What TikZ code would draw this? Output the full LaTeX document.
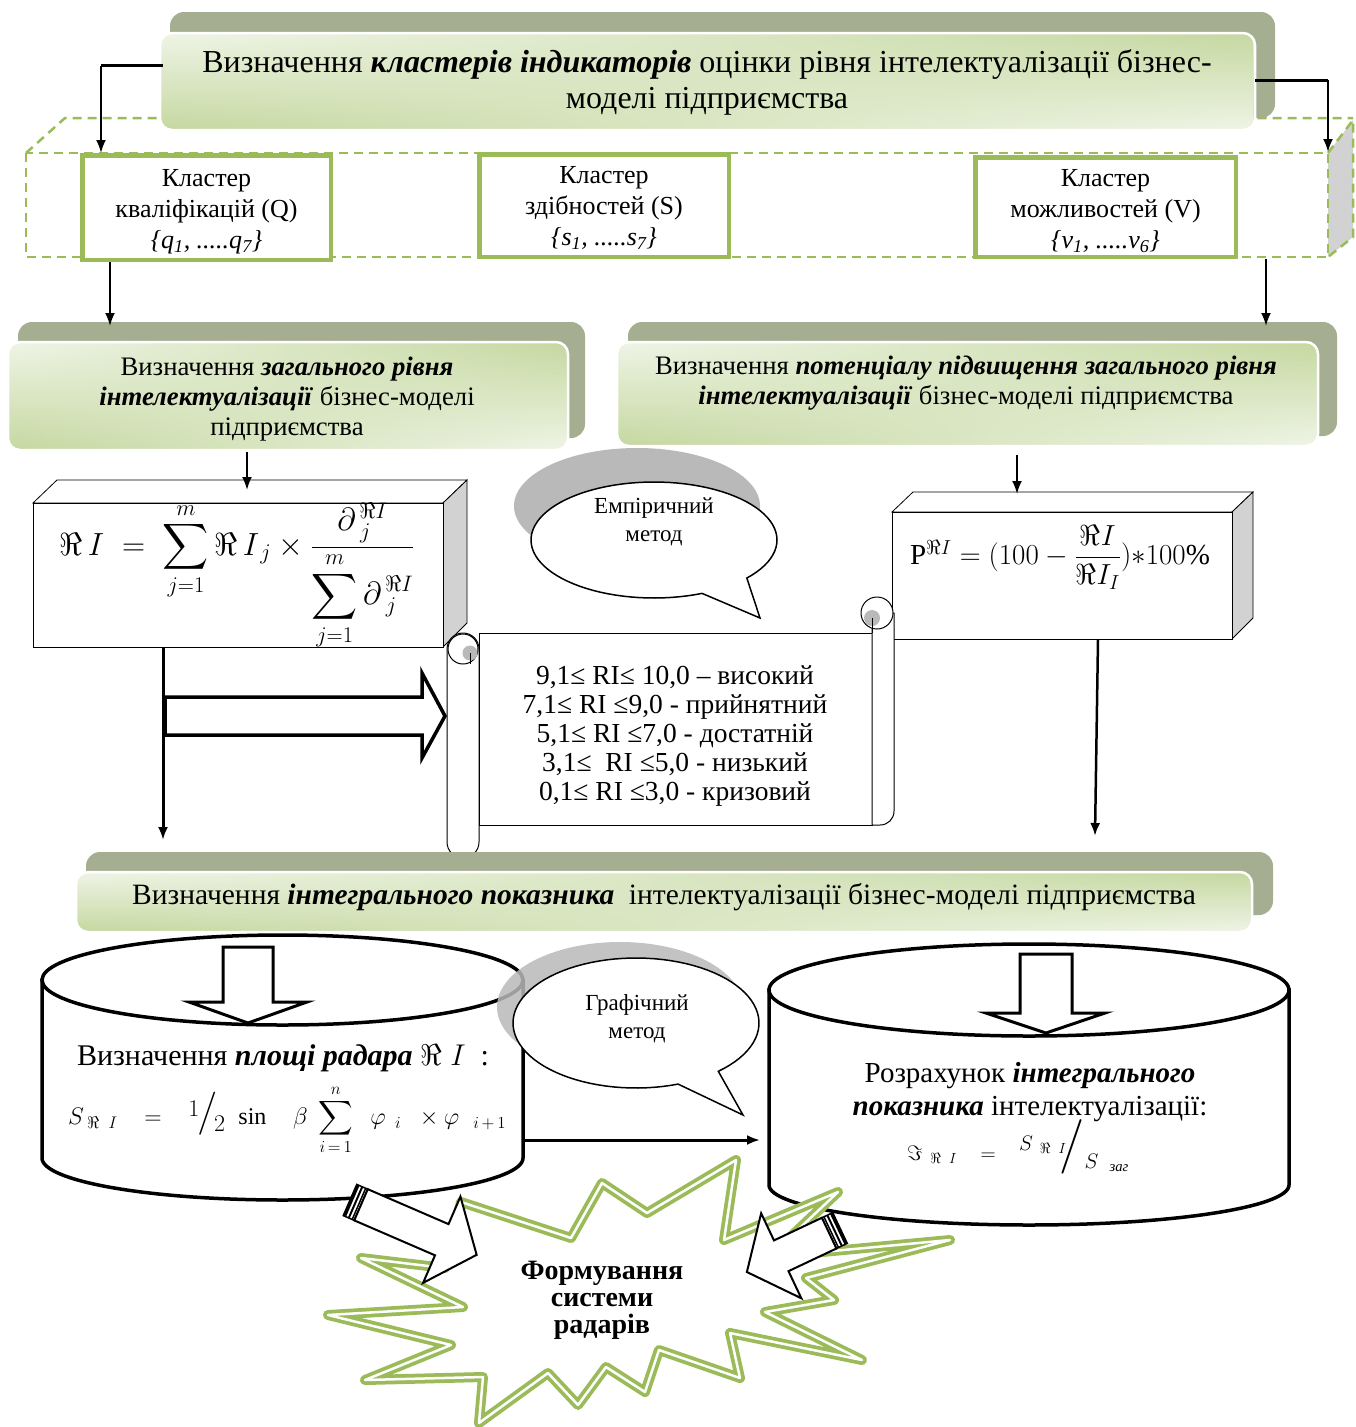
\RequirePackage{fix-cm}
\documentclass[tikz,border=0pt]{standalone}
\usepackage{amsmath,amssymb,graphicx}
\usepackage{fontspec}
\setmainfont{Liberation Serif}
\usetikzlibrary{arrows.meta,fadings}
\definecolor{gshadow}{RGB}{166,174,146}
\definecolor{glight}{RGB}{240,245,231}
\definecolor{gdark}{RGB}{197,216,160}
\definecolor{ggreen}{RGB}{155,187,89}
\definecolor{facegrey}{RGB}{210,210,210}
\definecolor{shadowgrey}{RGB}{185,185,185}
\newcommand\bi[1]{\textbf{\textit{#1}}}
\newcommand\mybanner[8]{%
  \fill[gshadow, rounded corners=14pt] (#1,#2) rectangle (#3,#4);
  \shade[top color=glight, bottom color=gdark, rounded corners=12pt] (#5,#6) rectangle (#7,#8);
  \shade[top color=gdark, bottom color=glight, rounded corners=12pt, path fading=west] (#5,#6) rectangle (#7,#8);
  \draw[white, line width=2.5pt, rounded corners=12pt] (#5,#6) rectangle (#7,#8);}
\newcommand\stripedarrow[4]{%
  \begin{scope}[shift={(#1,#2)}, rotate=#3]
    \draw[line width=1.5pt, fill=white] (0,-17) rectangle (12,17);
    \fill (0,-17) rectangle (3,17);
    \fill (5,-17) rectangle (7,17);
    \fill (9,-17) rectangle (10.5,17);
    \draw[line width=2pt, fill=white, line join=miter] (12,-17) -- ({#4-38},-17) -- ({#4-38},-47) -- (#4,0) -- ({#4-38},47) -- ({#4-38},17) -- (12,17) -- cycle;
  \end{scope}}
\tikzset{
  fs/.style 2 args={font=\fontsize{#1pt}{#2pt}\selectfont},
  txt/.style={align=center, inner sep=0pt},
  arr/.style={-{Latex[length=13pt,width=10pt]}, line width=2pt},
  clbox/.style={draw=ggreen, line width=4.5pt, fill=white, inner sep=0pt},
  facebox/.style={draw=black, line width=0.8pt},
  dashg/.style={draw=ggreen, line width=2.5pt, dash pattern=on 9pt off 6pt},
  cyl/.style={draw=black, line width=3.5pt},
  blockarr/.style={draw=black, line width=3pt, fill=white, line join=miter},
  bubble/.style={draw=black, line width=1.5pt, fill=white},
  scr/.style={draw=black, line width=1pt},
}
\begin{document}
\begin{tikzpicture}[x=1pt,y=-1pt]
\useasboundingbox (0,0) rectangle (1355,1427);

% ---- dashed parallelepiped
\fill[facegrey] (1328,153) -- (1353,120) -- (1353,237) -- (1328,257) -- cycle;
\draw[dashg] (26,153) -- (65,118) -- (1353,118);
\draw[dashg] (26,153) rectangle (1328,257);
\draw[dashg] (1328,153) -- (1353,120) -- (1353,237) -- (1328,257);
\coordinate (dtr) at (1328,152);

% ---- top banner
\mybanner{170}{12}{1275}{118}{160}{33}{1255}{130}
\node[txt, fs={32}{36}] (b1) at (707,82) {Визначення \bi{кластерів індикаторів} оцінки рівня інтелектуалізації бізнес-\\моделі підприємства};
\coordinate (b1L) at (163,65.5);
\coordinate (b1R) at (1255,80);

% ---- cluster boxes
\node[clbox, minimum width=248.5pt, minimum height=104.5pt] (qbox) at (206.5,207.5) {};
\node[clbox, minimum width=249.5pt, minimum height=102.5pt] (sbox) at (604,205.5) {};
\node[clbox, minimum width=260.5pt, minimum height=99.5pt] (vbox) at (1105.5,207) {};
\node[txt, fs={26}{31}] (qtxt) at (206.5,212) {Кластер\\кваліфікацій (Q)\\\textit{\{q\textsubscript{1}, .....q\textsubscript{7}\}}};
\node[txt, fs={26}{31}] (stxt) at (604,208) {Кластер\\здібностей (S)\\\textit{\{s\textsubscript{1}, .....s\textsubscript{7}\}}};
\node[txt, fs={26}{31}] (vtxt) at (1105.5,211) {Кластер\\можливостей (V)\\\textit{\{v\textsubscript{1}, .....v\textsubscript{6}\}}};

% ---- top connectors
\coordinate (c1) at (101,65.5);
\coordinate (c2) at (1328,80);
\draw[line width=3pt] (b1L) -- (c1);
\draw[arr] (c1) -- (c1 |- qbox.north);
\draw[line width=3pt] (b1R) -- (c2);
\draw[arr] (c2) -- (dtr);

% ---- second row banners
\mybanner{18}{322}{585}{438}{8}{342}{568}{450}
\mybanner{628}{322}{1337}{436}{617}{342}{1318}{446}
\node[txt, fs={26.7}{30}] (b2) at (287,399) {Визначення \bi{загального рівня}\\\bi{інтелектуалізації} бізнес-моделі\\підприємства};
\node[txt, fs={26.7}{30}] (b3) at (966,383) {Визначення \bi{потенціалу підвищення загального рівня}\\\bi{інтелектуалізації} бізнес-моделі підприємства};
\coordinate (b2T) at (110,326);
\coordinate (b3T) at (1266,326);
\draw[arr] ([xshift=-96.5pt]qbox.south) -- (b2T);
\draw[arr] ([xshift=160.5pt]vbox.south) -- (b3T);

% ---- 3D formula boxes
\draw[facebox, fill=white] (33,503) -- (57,480) -- (467,480) -- (443,503) -- cycle;
\draw[facebox, fill=facegrey] (443,503) -- (467,480) -- (467,623) -- (443,647) -- cycle;
\node[facebox, fill=white, minimum width=410pt, minimum height=144pt, inner sep=0pt] (f1) at (238,575) {};
\node[txt, fs={32}{36}] (f1t) at (237,576) {$\displaystyle \Re\, I \;=\; \sum_{j=1}^{m} \Re\, I_{\,j} \times \frac{\partial^{\,\Re I}_{\;j}}{\displaystyle\sum_{j=1}^{m} \partial^{\,\Re I}_{\;j}}$};

\draw[facebox, fill=white] (892,512) -- (913,492) -- (1253,492) -- (1232,512) -- cycle;
\draw[facebox, fill=facegrey] (1232,512) -- (1253,492) -- (1253,618) -- (1232,639) -- cycle;
\node[facebox, fill=white, minimum width=340pt, minimum height=127pt, inner sep=0pt] (f2) at (1062,575.5) {};
\node[txt, fs={29}{34}] (f2t) at (1060,557) {$\mathrm{P}^{\Re I} =(100-\dfrac{\Re I}{\Re I_{I}})\mathrm{*}100\%$};

\coordinate (b2B) at (247,452);
\coordinate (f1T) at (247,490);
\coordinate (b3B) at (1017,455);
\coordinate (f2T) at (1017,494);
\draw[arr] (b2B) -- (f1T);
\draw[arr] (b3B) -- (f2T);

% ---- speech bubble 1
\fill[shadowgrey] (637,506) ellipse [x radius=123, y radius=58];
\draw[bubble] plot[domain=67:401, samples=90] ({654+123*cos(\x)},{540+58*sin(\x)}) -- (760,618) -- cycle;
\node[txt, fs={23}{28}] (emp) at (654,522) {Емпіричний\\метод};

% ---- scroll
\draw[scr, fill=white, rounded corners=16pt] (447,633) rectangle (479,858);
\draw[scr, fill=white] (479,633) rectangle (872,825);
\draw[scr, fill=white] (872,613) -- (894,613) -- (894,811) .. controls (894,819) and (888,825) .. (880,825) -- (872,825) -- cycle;
\draw[scr, fill=white] (877,613) circle [radius=16];
\fill[shadowgrey] (872,618) circle [radius=8];
\draw[scr] (872,618) -- (872,633);
\draw[scr, fill=white] (463,649) circle [radius=15];
\fill[shadowgrey] (470,653) circle [radius=7.5];
\draw[scr] (470,653) -- (470,664);
\node[txt, fs={27.5}{29}] (scroll) at (675,736) {9,1≤ RI≤ 10,0 – високий\\7,1≤ RI ≤9,0 - прийнятний\\5,1≤ RI ≤7,0 - достатній\\3,1≤~ RI ≤5,0 - низький\\0,1≤ RI ≤3,0 - кризовий};

% ---- left flow arrows
\coordinate (b4a) at (163,840);
\draw[arr, line width=3pt] ([xshift=-75pt]f1.south) -- (b4a);
\draw[blockarr, line width=3.5pt] (165,697) -- (422,697) -- (422,673) -- (445,716) -- (422,758) -- (422,735) -- (165,735) -- cycle;
\coordinate (b4b) at (1095,836);
\draw[arr, line width=2.5pt] ([xshift=36pt]f2.south) -- (b4b);

% ---- bottom banner
\mybanner{86}{852}{1273}{915}{76}{872}{1252}{932}
\node[txt, fs={29.5}{32}] (b4) at (664,897) {Визначення \bi{інтегрального показника}~ інтелектуалізації бізнес-моделі підприємства};

% ---- left cylinder
\draw[cyl, fill=white] (523,980) -- (523,1158) -- plot[domain=0:180, samples=80] ({282.5+240.5*cos(\x)},{1158+42*sin(\x)}) -- (42,980) -- cycle;
\draw[cyl, fill=white] (282.5,980) ellipse [x radius=240.5, y radius=45];
\draw[blockarr] (223,947) -- (273,947) -- (273,1002) -- (307,1002) -- (248,1023) -- (189,1002) -- (223,1002) -- cycle;
\node[txt, fs={30}{32}] (cylLt) at (283,1058) {Визначення \bi{площі радара} $\Re\;I$~ :};
\node[txt, fs={24}{26}] (cylLf) at (287,1120) {$S_{\;\Re\;\;I}\;\;\;=\;\;\;\raisebox{8pt}{$1$}\kern-2pt\scalebox{1.8}{$/$}\kern-3pt\raisebox{-7pt}{$2$}\;\;\mathrm{sin}\;\;\;\;\beta\;\displaystyle\sum_{i\,=\,1}^{n}\;\;\varphi_{\;\;i}\;\;\times\varphi_{\;\;\;i\,+\,1}$};

% ---- right cylinder
\draw[cyl, fill=white] (1289,990) -- (1289,1185) -- plot[domain=0:180, samples=80] ({1029+260*cos(\x)},{1185+40*sin(\x)}) -- (769,990) -- cycle;
\draw[cyl, fill=white] (1029,990) ellipse [x radius=260, y radius=46];
\draw[blockarr] (1020,954) -- (1072,954) -- (1072,1013) -- (1105,1013) -- (1046,1033) -- (986,1013) -- (1020,1013) -- cycle;
\node[txt, fs={29}{33}] (cylRt) at (1030,1092) {Розрахунок \bi{інтегрального}\\\bi{показника} інтелектуалізації:};
\node[txt, fs={21}{24}] (cylRf) at (1018,1147) {$\Im_{\;\;\Re\;\;I}\;\;\;=\;\;\;\raisebox{10pt}{$S_{\;\;\Re\;\;I}$}\!\!\scalebox{2.6}{$/$}\raisebox{-8pt}{$S_{\;\;\;\text{\textit{заг}}}$}$};

% ---- bubble 2
\fill[shadowgrey, opacity=0.85] (620,1007) ellipse [x radius=123, y radius=65];
\draw[bubble] plot[domain=70:408, samples=90] ({636+123*cos(\x)},{1023+65*sin(\x)}) -- (743,1115) -- cycle;
\node[txt, fs={23}{28}] (gra) at (637,1019) {Графічний\\метод};

% ---- connector between cylinders
\coordinate (cylLr) at (523,1140);
\coordinate (cylRl) at (760,1140);
\draw[arr, line width=3pt] (cylLr) -- (cylRl);

% ---- star
\def\starpath{(461,1202) -- (571,1238) -- (602,1183) -- (647,1213) -- (736,1160) -- (724,1240) -- (838,1192) -- (769,1257) -- (950,1240) -- (806,1278) -- (834,1300) -- (765,1312) -- (862,1360) -- (730,1333) -- (740,1378) -- (659,1350) -- (645,1392) -- (606,1367) -- (578,1405) -- (548,1373) -- (479,1423) -- (483,1377) -- (365,1380) -- (451,1345) -- (328,1315) -- (463,1307) -- (361,1258) -- (445,1268) -- cycle}
\draw[ggreen, line width=10pt, fill=white, line join=round] \starpath;
\draw[white, line width=2.5pt, line join=round] \starpath;
\node[txt, font=\fontsize{28pt}{27pt}\selectfont\bfseries] (star) at (602,1300) {Формування\\системи\\радарів};

% ---- striped arrows
\stripedarrow{350}{1200}{-23.4}{138}
\stripedarrow{840}{1228}{-154.7}{103}
\end{tikzpicture}
\end{document}
